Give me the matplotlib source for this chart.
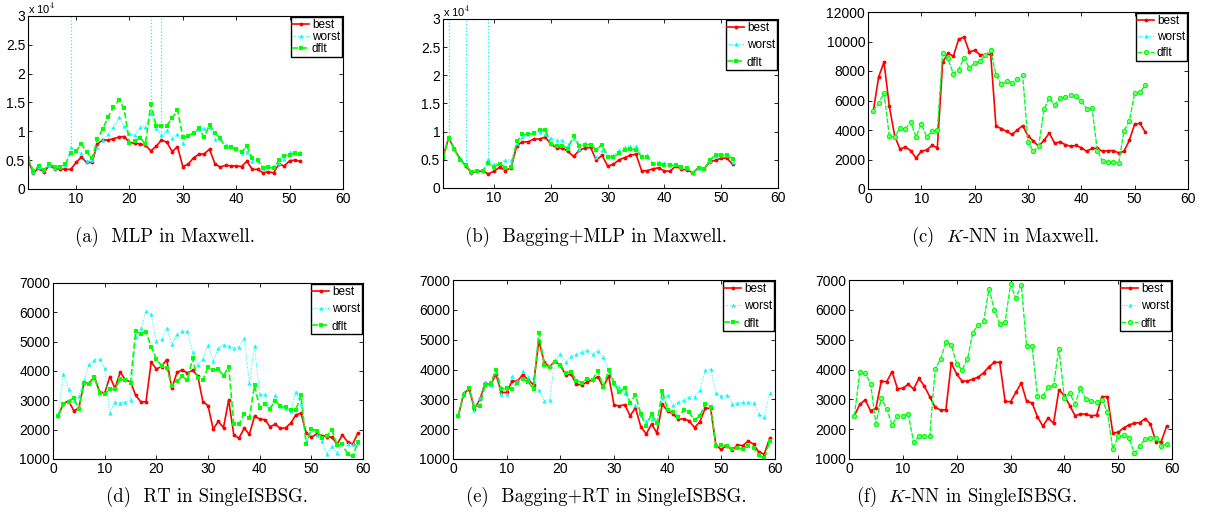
import matplotlib
matplotlib.use("Agg")
import matplotlib.pyplot as plt

plt.rcParams["font.family"] = ["Liberation Sans", "DejaVu Sans"]
plt.rcParams["mathtext.fontset"] = "cm"

# ---- data -------------------------------------------------------------
# Maxwell panels (a) and (b): values in units of 1e4
mlp_best = [0.50, 0.28, 0.36, 0.29, 0.41, 0.35, 0.35, 0.34, 0.34, 0.46,
            0.55, 0.46, 0.46, 0.78, 0.85, 0.85, 0.87, 0.90, 0.91, 0.81,
            0.79, 0.78, 0.76, 0.66, 0.74, 0.85, 0.81, 0.65, 0.73, 0.39,
            0.43, 0.54, 0.60, 0.61, 0.69, 0.44, 0.38, 0.41, 0.40, 0.40,
            0.39, 0.48, 0.34, 0.34, 0.28, 0.30, 0.28, 0.43, 0.40, 0.49,
            0.50, 0.48]
mlp_worst = [0.52, 0.30, 0.38, 0.33, 0.42, 0.37, 0.38, 0.42, 0.72, 0.66,
             0.62, 0.48, 0.50, 0.73, 0.85, 0.95, 1.07, 1.24, 1.09, 0.97,
             0.93, 1.08, 1.08, 1.32, 1.05, 0.93, 1.02, 0.89, 0.95, 0.80,
             0.93, 0.97, 1.04, 1.05, 1.07, 0.87, 0.86, 0.76, 0.72, 0.70,
             0.62, 0.65, 0.49, 0.50, 0.37, 0.40, 0.40, 0.45, 0.52, 0.64,
             0.62, 0.64]
mlp_worst_spikes = [9, 24, 26]      # worst runs off the top of the axis here
mlp_dflt = [0.54, 0.31, 0.40, 0.33, 0.43, 0.39, 0.39, 0.43, 0.63, 0.66,
            0.78, 0.64, 0.53, 0.87, 1.04, 1.25, 1.42, 1.54, 1.40, 0.80,
            0.83, 0.89, 0.78, 1.47, 1.10, 1.10, 1.10, 1.23, 1.37, 0.90,
            0.92, 0.97, 1.05, 0.90, 1.11, 0.97, 0.88, 0.72, 0.72, 0.70,
            0.64, 0.74, 0.53, 0.50, 0.37, 0.38, 0.36, 0.50, 0.58, 0.59,
            0.63, 0.60]

bmlp_best = [0.55, 0.89, 0.69, 0.52, 0.39, 0.27, 0.30, 0.30, 0.25, 0.30,
             0.37, 0.31, 0.36, 0.75, 0.82, 0.82, 0.87, 0.87, 0.90, 0.78,
             0.71, 0.71, 0.65, 0.56, 0.67, 0.71, 0.72, 0.49, 0.58, 0.39,
             0.42, 0.50, 0.54, 0.58, 0.60, 0.30, 0.31, 0.34, 0.36, 0.30,
             0.30, 0.39, 0.33, 0.32, 0.27, 0.36, 0.34, 0.47, 0.49, 0.53,
             0.53, 0.42]
bmlp_worst = [0.55, 0.92, 0.70, 0.53, 0.42, 0.29, 0.31, 0.30, 0.51, 0.43,
              0.44, 0.50, 0.50, 0.80, 0.90, 0.95, 0.97, 1.00, 0.95, 0.88,
              0.85, 0.85, 0.77, 0.88, 0.70, 0.80, 0.78, 0.55, 0.67, 0.56,
              0.58, 0.67, 0.73, 0.75, 0.74, 0.57, 0.58, 0.45, 0.46, 0.45,
              0.40, 0.42, 0.38, 0.36, 0.27, 0.36, 0.34, 0.48, 0.56, 0.58,
              0.58, 0.46]
bmlp_worst_spikes = [2, 5, 9]
bmlp_dflt = [0.53, 0.88, 0.69, 0.50, 0.40, 0.29, 0.30, 0.30, 0.44, 0.38,
             0.43, 0.36, 0.37, 0.83, 0.95, 0.95, 0.97, 1.03, 1.03, 0.78,
             0.74, 0.75, 0.70, 0.93, 0.75, 0.77, 0.77, 0.68, 0.77, 0.55,
             0.55, 0.62, 0.68, 0.69, 0.68, 0.55, 0.55, 0.42, 0.42, 0.40,
             0.40, 0.40, 0.37, 0.35, 0.27, 0.36, 0.33, 0.50, 0.58, 0.59,
             0.58, 0.52]

knn_m_best = [5300, 7600, 8600, 5600, 3600, 2700, 2850, 2600, 2100, 2550,
              2650, 2950, 2800, 8600, 9200, 9000, 10150, 10300, 9300, 9400,
              9100, 9100, 9150, 4250, 4100, 3900, 3700, 4000, 4300, 3600,
              3250, 2900, 3300, 3800, 3100, 3200, 3000, 2900, 2950, 2800,
              2550, 2750, 2750, 2550, 2600, 2600, 2450, 2550, 3300, 4400,
              4450, 3850]
knn_m_dflt = [5300, 5850, 6500, 3600, 3500, 4150, 4050, 4550, 3550, 4400,
              3550, 3900, 4000, 9250, 8850, 7800, 8100, 8900, 8200, 8550,
              8650, 9100, 9400, 7700, 7100, 7300, 7200, 7450, 7700, 3200,
              2550, 2900, 5400, 6200, 5700, 6200, 6250, 6350, 6300, 5950,
              5450, 5500, 2600, 1900, 1850, 1850, 1750, 3950, 4600, 6500,
              6550, 7050]
# worst coincides with dflt here (hidden underneath)
knn_m_worst = list(knn_m_dflt)

rt_best = [2480, 2880, 2990, 2650, 2730, 3610, 3580, 3810, 3300, 3240,
           3810, 3410, 3960, 3700, 3630, 3170, 2950, 2950, 4300, 4070,
           4150, 4390, 3410, 3950, 4040, 3930, 4020, 3840, 2960, 2820,
           2020, 2280, 2070, 3010, 1820, 1710, 2050, 1840, 2450, 2370,
           2340, 2100, 2180, 2050, 2060, 2220, 2500, 2560, 1900, 1740,
           1850, 1800, 1760, 1740, 1500, 1820, 1590, 1510, 1880]
rt_worst = [2480, 3910, 3380, 3000, 3150, 3680, 4230, 4380, 4420, 4100,
            2570, 2960, 2920, 2940, 3020, 5150, 5450, 6030, 5930, 5020,
            5080, 5460, 4930, 5260, 5350, 5350, 4660, 4200, 4420, 4880,
            4330, 4780, 4900, 4850, 4780, 4820, 5120, 3580, 4850, 3200,
            3200, 2700, 3170, 2800, 2750, 2650, 3300, 2880, 1600, 2050,
            1820, 1600, 1170, 1430, 1200, 1530, 1520, 1520, 1560]
rt_dflt = [2480, 2860, 2960, 3090, 2700, 3590, 3560, 3780, 3260, 3210,
           3380, 3380, 3720, 3710, 3600, 5370, 5270, 5340, 4830, 4420,
           4180, 4100, 3490, 3650, 3820, 3680, 4430, 3760, 3700, 4120,
           4020, 4060, 3840, 4150, 2180, 2190, 2530, 2400, 3510, 2750,
           2880, 2720, 2990, 2790, 2760, 2680, 2670, 3180, 1500, 2010,
           1970, 1730, 1800, 1980, 1480, 1500, 1170, 1090, 1580]

brt_best = [2450, 3200, 3340, 2690, 3000, 3540, 3480, 3840, 3230, 3230,
            3610, 3610, 3830, 3650, 3490, 4970, 4240, 4090, 4280, 4140,
            3820, 3840, 3510, 3480, 3590, 3650, 3760, 3400, 3790, 2810,
            2780, 2820, 2450, 2710, 2080, 1840, 2170, 1870, 2840, 2610,
            2510, 2340, 2340, 2280, 2050, 2250, 2700, 2700, 1450, 1320,
            1450, 1300, 1470, 1450, 1600, 1500, 1220, 1170, 1690]
brt_worst = [2450, 3220, 3400, 2650, 3050, 3570, 3470, 3900, 3180, 3180,
             3770, 3620, 3950, 3740, 3660, 3310, 2950, 2990, 4330, 4520,
             4260, 4440, 4510, 4600, 4650, 4530, 4620, 4420, 3950, 3530,
             3430, 3220, 2900, 2800, 2460, 2270, 2340, 2270, 3050, 3130,
             2800, 2920, 2970, 3080, 3090, 3320, 3970, 4020, 3220, 3100,
             3150, 2860, 2880, 2900, 2900, 2890, 2520, 2410, 3200]
brt_dflt = [2450, 3160, 3390, 2740, 2770, 3480, 3540, 3990, 3360, 3370,
            3350, 3560, 3670, 3590, 3350, 5230, 4160, 4080, 4250, 4160,
            3890, 3930, 3630, 3560, 3690, 3650, 3960, 3420, 3970, 3560,
            3230, 3390, 2890, 3150, 2500, 2100, 2520, 2190, 3270, 2650,
            2560, 2420, 2640, 2560, 2300, 2450, 2850, 2750, 1420, 1460,
            1450, 1330, 1370, 1330, 1440, 1370, 1140, 1020, 1590]

knn_s_best = [2450, 2830, 2980, 2620, 2700, 3610, 3590, 3930, 3360, 3370,
              3500, 3350, 3700, 3440, 3090, 2730, 2640, 2650, 4210, 3850,
              3610, 3610, 3680, 3740, 3890, 4090, 4240, 4240, 2930, 2920,
              3230, 3550, 2930, 2880, 2420, 2100, 2370, 2200, 3320, 3130,
              2790, 2450, 2510, 2500, 2450, 2470, 3090, 3090, 1880, 1890,
              2040, 2140, 2200, 2220, 2350, 2170, 1580, 1580, 2100]
knn_s_dflt = [2450, 3900, 3880, 3530, 2180, 3050, 2680, 2140, 2450, 2440,
              2510, 1570, 1770, 1760, 1760, 4020, 4340, 4920, 4830, 4190,
              3990, 4340, 5240, 5490, 5610, 6700, 6000, 5540, 5590, 6850,
              6390, 6840, 4780, 4780, 3110, 3110, 3400, 3480, 4700, 3060,
              3200, 2850, 3370, 3010, 2930, 2910, 2990, 2580, 1330, 1760,
              1790, 1700, 1200, 1440, 1670, 1710, 1710, 1450, 1500]
knn_s_worst = list(knn_s_dflt)

captions = ["(a)  MLP in Maxwell.",
            "(b)  Bagging+MLP in Maxwell.",
            "(c)  $K$-NN in Maxwell.",
            "(d)  RT in SingleISBSG.",
            "(e)  Bagging+RT in SingleISBSG.",
            "(f)  $K$-NN in SingleISBSG."]

# ---- layout (pixel boxes: left, right, top, bottom) ---------------------
W, H = 1206, 522
boxes = [(28, 343, 16, 189), (443, 778, 19, 188), (868, 1188, 12, 189),
         (53, 363, 283, 459), (453, 775, 280, 459), (849, 1172, 280, 459)]
cap_pos = [(165, 237), (596, 237), (1005, 237),
           (207, 497), (606, 497), (967, 497)]
leg_spacing = [0.0, 0.45, 0.35, 0.45, 0.45, 0.45]

panels = [
    (mlp_best, mlp_worst, mlp_dflt, mlp_worst_spikes, "s", (1, 60), (0, 3), 0.5, True),
    (bmlp_best, bmlp_worst, bmlp_dflt, bmlp_worst_spikes, "s", (1, 60), (0, 3), 0.5, True),
    (knn_m_best, knn_m_worst, knn_m_dflt, [], "o", (0, 60), (0, 12000), 2000, False),
    (rt_best, rt_worst, rt_dflt, [], "s", (0, 60), (1000, 7000), 1000, False),
    (brt_best, brt_worst, brt_dflt, [], "s", (0, 60), (1000, 7000), 1000, False),
    (knn_s_best, knn_s_worst, knn_s_dflt, [], "o", (0, 60), (1000, 7000), 1000, False),
]

fig = plt.figure(figsize=(W / 100, H / 100), dpi=100)

for (best, worst, dflt, spikes, dmark, xl, yl, ystep, sci), (l, r, t, b), cap, cp, ls in zip(
        panels, boxes, captions, cap_pos, leg_spacing):
    ax = fig.add_axes([l / W, 1 - b / H, (r - l) / W, (b - t) / H])
    x = range(1, len(best) + 1)
    lb, = ax.plot(x, best, "-", color="#ff0000", lw=1.2, marker=".",
                  markersize=3.5, label="best")
    lw_, = ax.plot(x, worst, ":", color="#00ffff", lw=0.7, marker="^",
                   markersize=3, markeredgewidth=0, label="worst")
    for s in spikes:
        # off-scale excursion of the worst series, drawn as in the original
        ax.plot([s, s], [worst[s - 1], yl[1]], ":", color="#00ffff", lw=0.9)
    if dmark == "s":
        ld, = ax.plot(x, dflt, "--", color="#00ff00", lw=1.2, marker="s",
                      markersize=2.5, markeredgewidth=0, label="dflt")
    else:
        ld, = ax.plot(x, dflt, "--", color="#00ff00", lw=0.9, marker="o",
                      markersize=3, markerfacecolor="#80ff80",
                      markeredgewidth=0.8, label="dflt")
    ax.set_xlim(*xl)
    ax.set_ylim(*yl)
    ax.set_xticks(range(10 if xl[0] == 1 else 0, 61, 10))
    yt = []
    v = yl[0]
    while v <= yl[1] + 1e-9:
        yt.append(v)
        v += ystep
    ax.set_yticks(yt)
    if sci:
        ax.set_yticklabels(["0" if v == 0 else ("%g" % v) for v in yt])
        ax.text(0.0, 1.0, r"x 10$^{4}$", transform=ax.transAxes,
                fontsize=8, va="bottom", ha="left")
    ax.tick_params(direction="in", length=3, width=0.6, labelsize=10,
                   top=True, right=True, pad=2)
    for sp in ax.spines.values():
        sp.set_linewidth(0.8)
    leg = ax.legend(handles=[lb, lw_, ld], loc="upper right", fontsize=8.5,
                    fancybox=False, framealpha=1, edgecolor="black",
                    borderaxespad=0.1, handlelength=1.4, handletextpad=0.25,
                    borderpad=0.15, labelspacing=ls)
    leg.get_frame().set_linewidth(1.0)
    fig.text(cp[0] / W, 1 - cp[1] / H, cap, ha="center", va="center",
             fontsize=13.5, family="cmr10")

fig.savefig("out.png", dpi=100)
